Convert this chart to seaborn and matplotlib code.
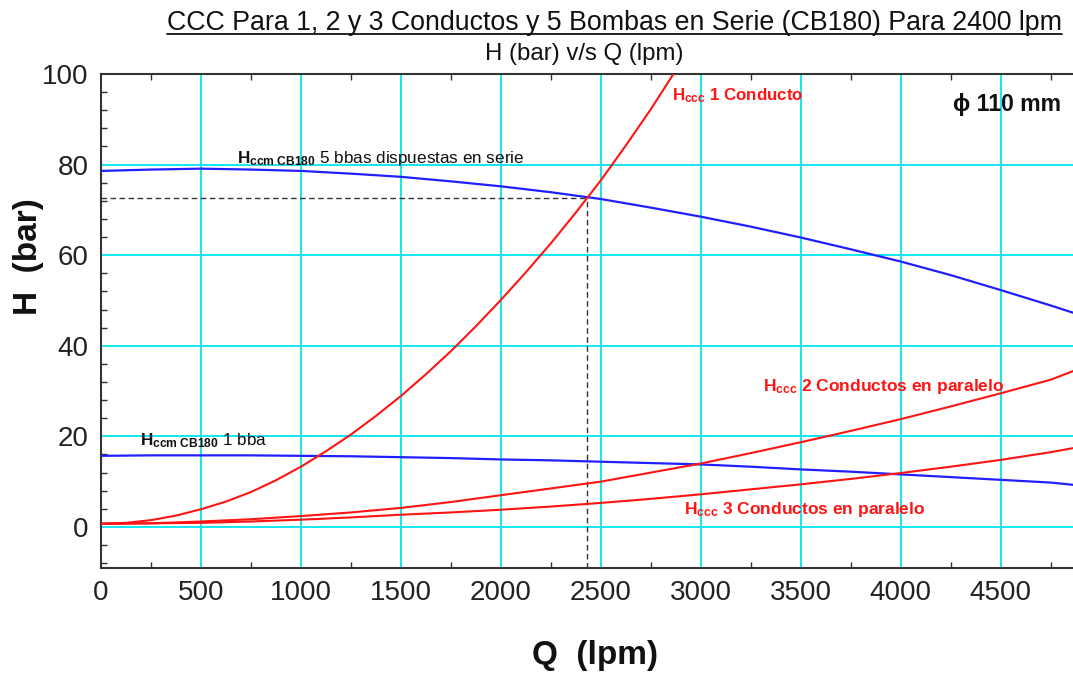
import matplotlib
matplotlib.use("Agg")
import matplotlib.pyplot as plt
import seaborn as sns
from matplotlib.lines import Line2D

# Flow rates (lpm) at which the pump and parallel-pipe curves are tabulated
q_vals = [0, 250, 500, 750, 1000, 1250, 1500, 1750, 2000, 2250, 2500,
          2750, 3000, 3250, 3500, 3750, 4000, 4250, 4500, 4750, 4862]

# Pump curves (bar): five CB180 pumps in series and a single pump
h_5bbas = [78.6, 78.9, 79.1, 78.9, 78.6, 78.0, 77.3, 76.3, 75.2, 73.9, 72.4,
           70.5, 68.5, 66.3, 63.9, 61.3, 58.6, 55.6, 52.3, 48.9, 47.3]
h_1bba = [15.7, 15.8, 15.8, 15.8, 15.7, 15.6, 15.4, 15.2, 14.9, 14.7, 14.4,
          14.1, 13.8, 13.3, 12.7, 12.2, 11.6, 11.0, 10.4, 9.8, 9.3]

# System curve (bar) for a single pipe
q_1cond = [0, 125, 250, 375, 500, 625, 750, 875, 1000, 1125, 1250, 1375, 1500,
           1625, 1750, 1875, 2000, 2125, 2250, 2375, 2500, 2625, 2750, 2875, 2950]
h_1cond = [0.7, 0.9, 1.5, 2.5, 3.9, 5.6, 7.7, 10.3, 13.3, 16.7, 20.4, 24.5, 28.9,
           33.7, 38.8, 44.3, 50.1, 56.2, 62.6, 69.4, 76.5, 84.2, 92.2, 100.8, 106.0]

# System curves (bar) for two and three pipes in parallel
h_2cond = [0.7, 0.8, 1.2, 1.7, 2.4, 3.2, 4.2, 5.5, 7.0, 8.5, 10.0,
           12.0, 14.0, 16.3, 18.7, 21.2, 23.8, 26.6, 29.5, 32.5, 34.4]
h_3cond = [0.7, 0.8, 0.9, 1.2, 1.6, 2.1, 2.7, 3.2, 3.8, 4.5, 5.3,
           6.2, 7.2, 8.3, 9.4, 10.6, 11.9, 13.3, 14.8, 16.5, 17.4]

# Operating point: five pumps in series with one pipe
q_op = 2432
h_op = 72.7

x_ticks = [0, 500, 1000, 1500, 2000, 2500, 3000, 3500, 4000, 4500]
y_ticks = [0, 20, 40, 60, 80, 100]

sns.set_style("white")
plt.rcParams["font.family"] = ["Liberation Sans", "DejaVu Sans"]
plt.rcParams["mathtext.fontset"] = "custom"
plt.rcParams["mathtext.rm"] = "Liberation Sans"
plt.rcParams["mathtext.bf"] = "Liberation Sans:bold"
plt.rcParams["mathtext.it"] = "Liberation Sans:italic"

fig = plt.figure(figsize=(10.73, 6.74), dpi=100)
ax = fig.add_axes([101 / 1073, 1 - 567.7 / 674, 1 - 101 / 1073, (567.7 - 74) / 674])

grid_c = "#00E5F0"
for xv in x_ticks[1:]:
    ax.axvline(xv, color=grid_c, lw=1.3, zorder=1)
for yv in y_ticks[:-1]:
    ax.axhline(yv, color=grid_c, lw=1.3, zorder=1)

blue = "#1F1FFF"
red = "#FF1414"
sns.lineplot(x=q_vals, y=h_5bbas, ax=ax, color=blue, lw=1.6, estimator=None, sort=False, zorder=3)
sns.lineplot(x=q_vals, y=h_1bba, ax=ax, color=blue, lw=1.6, estimator=None, sort=False, zorder=3)
sns.lineplot(x=q_1cond, y=h_1cond, ax=ax, color=red, lw=1.5, estimator=None, sort=False, zorder=3)
sns.lineplot(x=q_vals, y=h_2cond, ax=ax, color=red, lw=1.5, estimator=None, sort=False, zorder=3)
sns.lineplot(x=q_vals, y=h_3cond, ax=ax, color=red, lw=1.5, estimator=None, sort=False, zorder=3)

# Guides to the operating point
ax.plot([0, q_op], [h_op, h_op], color="#333333", lw=1.0, ls=(0, (4, 2.5)), zorder=2)
ax.plot([q_op, q_op], [-9, h_op], color="#333333", lw=1.0, ls=(0, (4, 2.5)), zorder=2)

ax.set_xlim(0, 4862)
ax.set_ylim(-9, 100)
ax.set_xticks(x_ticks)
ax.set_yticks(y_ticks)
ax.set_xticks([250 + 500 * i for i in range(10)], minor=True)
ax.set_yticks([v for v in range(-8, 100, 4) if v % 20 != 0], minor=True)
ax.tick_params(axis="both", which="major", length=0, labelsize=20, pad=9, colors="#222222")
ax.tick_params(axis="both", which="minor", length=4, width=1, direction="in", color="#333333")
ax.tick_params(axis="x", which="minor", top=True, bottom=True)
ax.tick_params(axis="y", which="minor", left=True, right=False)
for lab in ax.get_xticklabels() + ax.get_yticklabels():
    lab.set_color("#222222")
for side in ["left", "bottom", "top"]:
    ax.spines[side].set_color("#333333")
    ax.spines[side].set_linewidth(1.5)
ax.spines["right"].set_visible(False)
ax.set_xlabel("")
ax.set_ylabel("")

# Curve annotations
ax.text(682, 80.4, r"$\mathbf{H}_{\mathbf{ccm\ CB180}}$ 5 bbas dispuestas en serie",
        fontsize=12.3, color="#111111", va="baseline", ha="left", zorder=4)
ax.text(195, 18.0, r"$\mathbf{H}_{\mathbf{ccm\ CB180}}$ 1 bba",
        fontsize=12.3, color="#111111", va="baseline", ha="left", zorder=4)
ax.text(2855, 94.1, r"$\mathbf{H}_{\mathbf{ccc}}$ 1 Conducto",
        fontsize=12.2, color=red, fontweight="bold", va="baseline", ha="left", zorder=4)
ax.text(3311, 30.1, r"$\mathbf{H}_{\mathbf{ccc}}$ 2 Conductos en paralelo",
        fontsize=12.5, color=red, fontweight="bold", va="baseline", ha="left", zorder=4)
ax.text(2917, 2.8, r"$\mathbf{H}_{\mathbf{ccc}}$ 3 Conductos en paralelo",
        fontsize=12.5, color=red, fontweight="bold", va="baseline", ha="left", zorder=4)
ax.text(4262, 91.9, "\u03d5 110 mm", fontsize=16.6, color="#111111", fontweight="bold",
        va="baseline", ha="left", zorder=4)

# Titles
title = fig.text(166.7 / 1073, 1 - 30 / 674,
                 "CCC Para 1, 2 y 3 Conductos y 5 Bombas en Serie (CB180) Para 2400 lpm",
                 fontsize=19.3, color="#111111", ha="left", va="baseline")
fig.text(584 / 1073, 1 - 60 / 674, "H (bar) v/s Q (lpm)", fontsize=17.3,
         color="#111111", ha="center", va="baseline")

# Underline for the main title
fig.canvas.draw()
bb = title.get_window_extent(renderer=fig.canvas.get_renderer())
x0, x1 = bb.x0 / fig.bbox.width, bb.x1 / fig.bbox.width
yl = 1 - 33.5 / 674
fig.add_artist(Line2D([x0, x1], [yl, yl], transform=fig.transFigure, color="#111111", lw=1.3))

# Axis titles
fig.text(29 / 1073, 1 - 257 / 674, "H  (bar)", fontsize=24, fontweight="bold",
         rotation=90, ha="center", va="center", color="#111111")
fig.text(595 / 1073, 1 - 664 / 674, "Q  (lpm)", fontsize=24, fontweight="bold",
         ha="center", va="baseline", color="#111111")

fig.savefig("out.png", dpi=100)
